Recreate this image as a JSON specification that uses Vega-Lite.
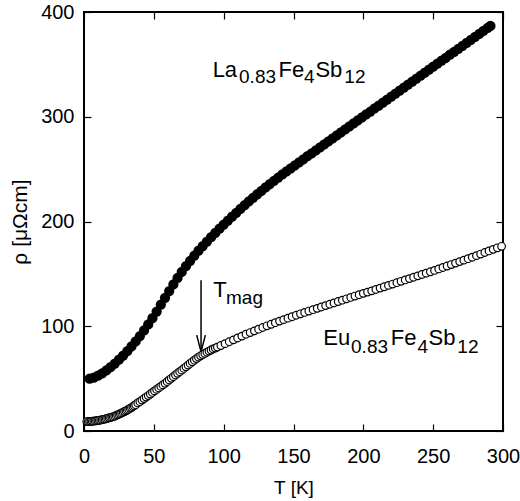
{
  "$schema": "https://vega.github.io/schema/vega-lite/v6.json",
  "width": 419,
  "height": 419,
  "autosize": {"type": "none"},
  "padding": {"left": 84, "top": 12, "right": 17, "bottom": 70},
  "background": "white",
  "config": {
    "view": {"stroke": "#000", "strokeWidth": 2},
    "font": "Liberation Sans",
    "axis": {
      "grid": false,
      "domain": false,
      "labelFlush": false,
      "labelOverlap": false,
      "tickColor": "#000",
      "tickSize": -7,
      "tickWidth": 1.2,
      "labelColor": "#000",
      "labelFont": "Liberation Sans",
      "labelFontSize": 20,
      "titleColor": "#000",
      "titleFont": "Liberation Sans",
      "titleFontSize": 19,
      "titleFontWeight": "normal"
    }
  },
  "datasets": {
    "la": [
      {"T": 4, "rho": 50.0}, {"T": 7, "rho": 51.0}, {"T": 10, "rho": 52.8}, {"T": 13, "rho": 55.0},
      {"T": 16, "rho": 57.8}, {"T": 19, "rho": 60.9}, {"T": 22, "rho": 64.4}, {"T": 25, "rho": 68.1},
      {"T": 28, "rho": 72.0}, {"T": 31, "rho": 76.2}, {"T": 34, "rho": 80.7}, {"T": 37, "rho": 85.5},
      {"T": 40, "rho": 90.6}, {"T": 43, "rho": 96.0}, {"T": 46, "rho": 101.7}, {"T": 49, "rho": 107.7},
      {"T": 52, "rho": 114.0}, {"T": 55, "rho": 120.6}, {"T": 58, "rho": 127.2}, {"T": 61, "rho": 133.6},
      {"T": 64, "rho": 139.9}, {"T": 67, "rho": 146.1}, {"T": 70, "rho": 151.9}, {"T": 73, "rho": 157.3},
      {"T": 76, "rho": 162.5}, {"T": 79, "rho": 167.5}, {"T": 82, "rho": 172.2}, {"T": 85, "rho": 176.6},
      {"T": 88, "rho": 180.9}, {"T": 91, "rho": 185.0}, {"T": 94, "rho": 189.1}, {"T": 97, "rho": 193.1},
      {"T": 100, "rho": 197.1}, {"T": 103, "rho": 200.9}, {"T": 106, "rho": 204.6}, {"T": 109, "rho": 208.3},
      {"T": 112, "rho": 212.0}, {"T": 115, "rho": 215.6}, {"T": 118, "rho": 219.2}, {"T": 121, "rho": 222.6},
      {"T": 124, "rho": 225.9}, {"T": 127, "rho": 229.2}, {"T": 130, "rho": 232.5}, {"T": 133, "rho": 235.7},
      {"T": 136, "rho": 238.8}, {"T": 139, "rho": 241.9}, {"T": 142, "rho": 244.9}, {"T": 145, "rho": 247.8},
      {"T": 148, "rho": 250.7}, {"T": 151, "rho": 253.6}, {"T": 154, "rho": 256.5}, {"T": 157, "rho": 259.4},
      {"T": 160, "rho": 262.3}, {"T": 163, "rho": 265.1}, {"T": 166, "rho": 268.0}, {"T": 169, "rho": 270.8},
      {"T": 172, "rho": 273.7}, {"T": 175, "rho": 276.5}, {"T": 178, "rho": 279.4}, {"T": 181, "rho": 282.2},
      {"T": 184, "rho": 285.1}, {"T": 187, "rho": 287.9}, {"T": 190, "rho": 290.8}, {"T": 193, "rho": 293.6},
      {"T": 196, "rho": 296.5}, {"T": 199, "rho": 299.3}, {"T": 202, "rho": 302.2}, {"T": 205, "rho": 305.0},
      {"T": 208, "rho": 307.9}, {"T": 211, "rho": 310.7}, {"T": 214, "rho": 313.6}, {"T": 217, "rho": 316.4},
      {"T": 220, "rho": 319.3}, {"T": 223, "rho": 322.1}, {"T": 226, "rho": 325.0}, {"T": 229, "rho": 327.8},
      {"T": 232, "rho": 330.7}, {"T": 235, "rho": 333.5}, {"T": 238, "rho": 336.4}, {"T": 241, "rho": 339.2},
      {"T": 244, "rho": 342.1}, {"T": 247, "rho": 344.9}, {"T": 250, "rho": 347.8}, {"T": 253, "rho": 350.6},
      {"T": 256, "rho": 353.5}, {"T": 259, "rho": 356.3}, {"T": 262, "rho": 359.2}, {"T": 265, "rho": 362.0},
      {"T": 268, "rho": 364.9}, {"T": 271, "rho": 367.7}, {"T": 274, "rho": 370.6}, {"T": 277, "rho": 373.4},
      {"T": 280, "rho": 376.3}, {"T": 283, "rho": 379.1}, {"T": 286, "rho": 382.0}, {"T": 289, "rho": 384.8},
      {"T": 291, "rho": 386.7}
    ],
    "eu": [
      {"T": 2, "rho": 9.0}, {"T": 3, "rho": 9.0}, {"T": 4, "rho": 9.1}, {"T": 5, "rho": 9.2},
      {"T": 6, "rho": 9.3}, {"T": 7, "rho": 9.4}, {"T": 8, "rho": 9.6}, {"T": 9, "rho": 9.8},
      {"T": 10, "rho": 10.0}, {"T": 11, "rho": 10.2}, {"T": 12, "rho": 10.5}, {"T": 13, "rho": 10.8},
      {"T": 14, "rho": 11.1}, {"T": 15, "rho": 11.4}, {"T": 16, "rho": 11.8}, {"T": 17, "rho": 12.2},
      {"T": 18, "rho": 12.6}, {"T": 19, "rho": 12.9}, {"T": 20, "rho": 13.3}, {"T": 21, "rho": 13.7},
      {"T": 22, "rho": 14.2}, {"T": 23, "rho": 14.8}, {"T": 24, "rho": 15.4}, {"T": 25, "rho": 16.0},
      {"T": 26, "rho": 16.6}, {"T": 27, "rho": 17.2}, {"T": 28, "rho": 17.9}, {"T": 29, "rho": 18.6},
      {"T": 30, "rho": 19.3}, {"T": 31, "rho": 20.0}, {"T": 32, "rho": 20.8}, {"T": 33, "rho": 21.6},
      {"T": 34, "rho": 22.4}, {"T": 35, "rho": 23.3}, {"T": 36, "rho": 24.2}, {"T": 37, "rho": 25.1},
      {"T": 38.5, "rho": 26.8}, {"T": 40, "rho": 28.0}, {"T": 41.5, "rho": 29.5}, {"T": 43, "rho": 31.0},
      {"T": 44.5, "rho": 32.4}, {"T": 46, "rho": 33.8}, {"T": 47.5, "rho": 35.3}, {"T": 49, "rho": 36.8},
      {"T": 50.5, "rho": 38.3}, {"T": 52, "rho": 39.7}, {"T": 53.5, "rho": 41.1}, {"T": 55, "rho": 42.6},
      {"T": 56.5, "rho": 44.0}, {"T": 58, "rho": 45.5}, {"T": 59.5, "rho": 47.1}, {"T": 61, "rho": 48.7},
      {"T": 62.5, "rho": 50.3}, {"T": 64, "rho": 51.9}, {"T": 65.5, "rho": 53.5}, {"T": 67, "rho": 55.1},
      {"T": 68.5, "rho": 56.6}, {"T": 70, "rho": 58.1}, {"T": 71.5, "rho": 59.7}, {"T": 73, "rho": 61.3},
      {"T": 74.5, "rho": 62.9}, {"T": 76, "rho": 64.5}, {"T": 77.5, "rho": 66.1}, {"T": 79, "rho": 67.6},
      {"T": 80.5, "rho": 69.1}, {"T": 82, "rho": 70.5}, {"T": 83.5, "rho": 71.8}, {"T": 85, "rho": 73.0},
      {"T": 86.5, "rho": 74.1}, {"T": 88, "rho": 75.2}, {"T": 89.5, "rho": 76.3}, {"T": 91, "rho": 77.3},
      {"T": 92.5, "rho": 78.3}, {"T": 94, "rho": 79.2}, {"T": 95.5, "rho": 80.1}, {"T": 98, "rho": 81.6},
      {"T": 101, "rho": 83.4}, {"T": 104, "rho": 85.2}, {"T": 107, "rho": 87.0}, {"T": 110, "rho": 88.8},
      {"T": 113, "rho": 90.6}, {"T": 116, "rho": 92.4}, {"T": 119, "rho": 94.0}, {"T": 122, "rho": 95.6},
      {"T": 125, "rho": 97.2}, {"T": 128, "rho": 98.8}, {"T": 131, "rho": 100.4}, {"T": 134, "rho": 101.9},
      {"T": 137, "rho": 103.4}, {"T": 140, "rho": 104.9}, {"T": 143, "rho": 106.3}, {"T": 146, "rho": 107.7},
      {"T": 149, "rho": 109.1}, {"T": 152, "rho": 110.5}, {"T": 155, "rho": 111.9}, {"T": 158, "rho": 113.2},
      {"T": 161, "rho": 114.5}, {"T": 164, "rho": 115.8}, {"T": 167, "rho": 117.1}, {"T": 170, "rho": 118.4},
      {"T": 173, "rho": 119.7}, {"T": 176, "rho": 121.0}, {"T": 179, "rho": 122.3}, {"T": 182, "rho": 123.6},
      {"T": 185, "rho": 124.9}, {"T": 188, "rho": 126.2}, {"T": 191, "rho": 127.5}, {"T": 194, "rho": 128.8},
      {"T": 197, "rho": 130.1}, {"T": 200, "rho": 131.4}, {"T": 203, "rho": 132.6}, {"T": 206, "rho": 133.8},
      {"T": 209, "rho": 135.1}, {"T": 212, "rho": 136.4}, {"T": 215, "rho": 137.7}, {"T": 218, "rho": 139.0},
      {"T": 221, "rho": 140.3}, {"T": 224, "rho": 141.6}, {"T": 227, "rho": 142.9}, {"T": 230, "rho": 144.2},
      {"T": 233, "rho": 145.5}, {"T": 236, "rho": 146.8}, {"T": 239, "rho": 148.1}, {"T": 242, "rho": 149.4},
      {"T": 245, "rho": 150.7}, {"T": 248, "rho": 152.0}, {"T": 251, "rho": 153.3}, {"T": 254, "rho": 154.7},
      {"T": 257, "rho": 156.1}, {"T": 260, "rho": 157.5}, {"T": 263, "rho": 158.9}, {"T": 266, "rho": 160.3},
      {"T": 269, "rho": 161.7}, {"T": 272, "rho": 163.1}, {"T": 275, "rho": 164.5}, {"T": 278, "rho": 165.9},
      {"T": 281, "rho": 167.4}, {"T": 284, "rho": 168.9}, {"T": 287, "rho": 170.4}, {"T": 290, "rho": 171.9},
      {"T": 293, "rho": 173.4}, {"T": 296, "rho": 174.9}, {"T": 299, "rho": 176.3}
    ],
    "arrow": [
      {"T": 83.8, "rho": 144, "T2": 83.8, "rho2": 75.5},
      {"T": 80.7, "rho": 91.5, "T2": 83.8, "rho2": 75.5},
      {"T": 86.9, "rho": 91.5, "T2": 83.8, "rho2": 75.5}
    ],
    "big": [
      {"T": 92.1, "rho": 338.3, "label": "La"},
      {"T": 139.3, "rho": 338.3, "label": "Fe"},
      {"T": 165.7, "rho": 338.3, "label": "Sb"},
      {"T": 171.3, "rho": 81.9, "label": "Eu"},
      {"T": 219.6, "rho": 81.9, "label": "Fe"},
      {"T": 246.7, "rho": 81.9, "label": "Sb"},
      {"T": 92.6, "rho": 128.0, "label": "T"}
    ],
    "sub": [
      {"T": 111.0, "rho": 332.0, "label": "0.83"},
      {"T": 157.5, "rho": 332.0, "label": "4"},
      {"T": 186.4, "rho": 332.0, "label": "12"},
      {"T": 191.2, "rho": 74.0, "label": "0.83"},
      {"T": 238.8, "rho": 74.0, "label": "4"},
      {"T": 267.3, "rho": 74.0, "label": "12"},
      {"T": 101.7, "rho": 121.7, "label": "mag"}
    ]
  },
  "resolve": {"axis": {"x": "independent", "y": "independent"}},
  "layer": [
    {
      "data": {"name": "la"},
      "mark": {"type": "point", "shape": "circle", "filled": true, "color": "#000", "size": 105, "opacity": 1},
      "encoding": {
        "x": {"field": "T", "type": "quantitative", "scale": {"domain": [0, 300], "nice": false, "zero": false},
          "axis": {"orient": "bottom", "values": [0, 50, 100, 150, 200, 250, 300], "title": "T [K]", "labelPadding": 22, "titlePadding": 12}},
        "y": {"field": "rho", "type": "quantitative", "scale": {"domain": [0, 400], "nice": false, "zero": false},
          "axis": {"orient": "left", "values": [0, 100, 200, 300, 400], "title": "ρ [μΩcm]", "titleFontSize": 21, "labelPadding": 17, "titlePadding": 10}}
      }
    },
    {
      "data": {"name": "eu"},
      "mark": {"type": "point", "shape": "circle", "filled": true, "fill": "#fff", "stroke": "#000", "strokeWidth": 1.2, "size": 58, "opacity": 1, "fillOpacity": 1},
      "encoding": {
        "x": {"field": "T", "type": "quantitative", "scale": {"domain": [0, 300], "nice": false, "zero": false},
          "axis": {"orient": "top", "values": [0, 50, 100, 150, 200, 250, 300], "labels": false, "title": null}},
        "y": {"field": "rho", "type": "quantitative", "scale": {"domain": [0, 400], "nice": false, "zero": false},
          "axis": {"orient": "right", "values": [0, 100, 200, 300, 400], "labels": false, "title": null}}
      }
    },
    {
      "data": {"name": "arrow"},
      "mark": {"type": "rule", "color": "#000", "strokeWidth": 1.5},
      "encoding": {
        "x": {"field": "T", "type": "quantitative", "scale": {"domain": [0, 300], "nice": false, "zero": false}, "axis": null},
        "x2": {"field": "T2"},
        "y": {"field": "rho", "type": "quantitative", "scale": {"domain": [0, 400], "nice": false, "zero": false}, "axis": null},
        "y2": {"field": "rho2"}
      }
    },
    {
      "data": {"name": "big"},
      "mark": {"type": "text", "align": "left", "baseline": "alphabetic", "fontSize": 22, "font": "Liberation Sans", "color": "#000"},
      "encoding": {
        "x": {"field": "T", "type": "quantitative", "scale": {"domain": [0, 300], "nice": false, "zero": false}, "axis": null},
        "y": {"field": "rho", "type": "quantitative", "scale": {"domain": [0, 400], "nice": false, "zero": false}, "axis": null},
        "text": {"field": "label"}
      }
    },
    {
      "data": {"name": "sub"},
      "mark": {"type": "text", "align": "left", "baseline": "alphabetic", "fontSize": 19, "font": "Liberation Sans", "color": "#000"},
      "encoding": {
        "x": {"field": "T", "type": "quantitative", "scale": {"domain": [0, 300], "nice": false, "zero": false}, "axis": null},
        "y": {"field": "rho", "type": "quantitative", "scale": {"domain": [0, 400], "nice": false, "zero": false}, "axis": null},
        "text": {"field": "label"}
      }
    }
  ]
}
